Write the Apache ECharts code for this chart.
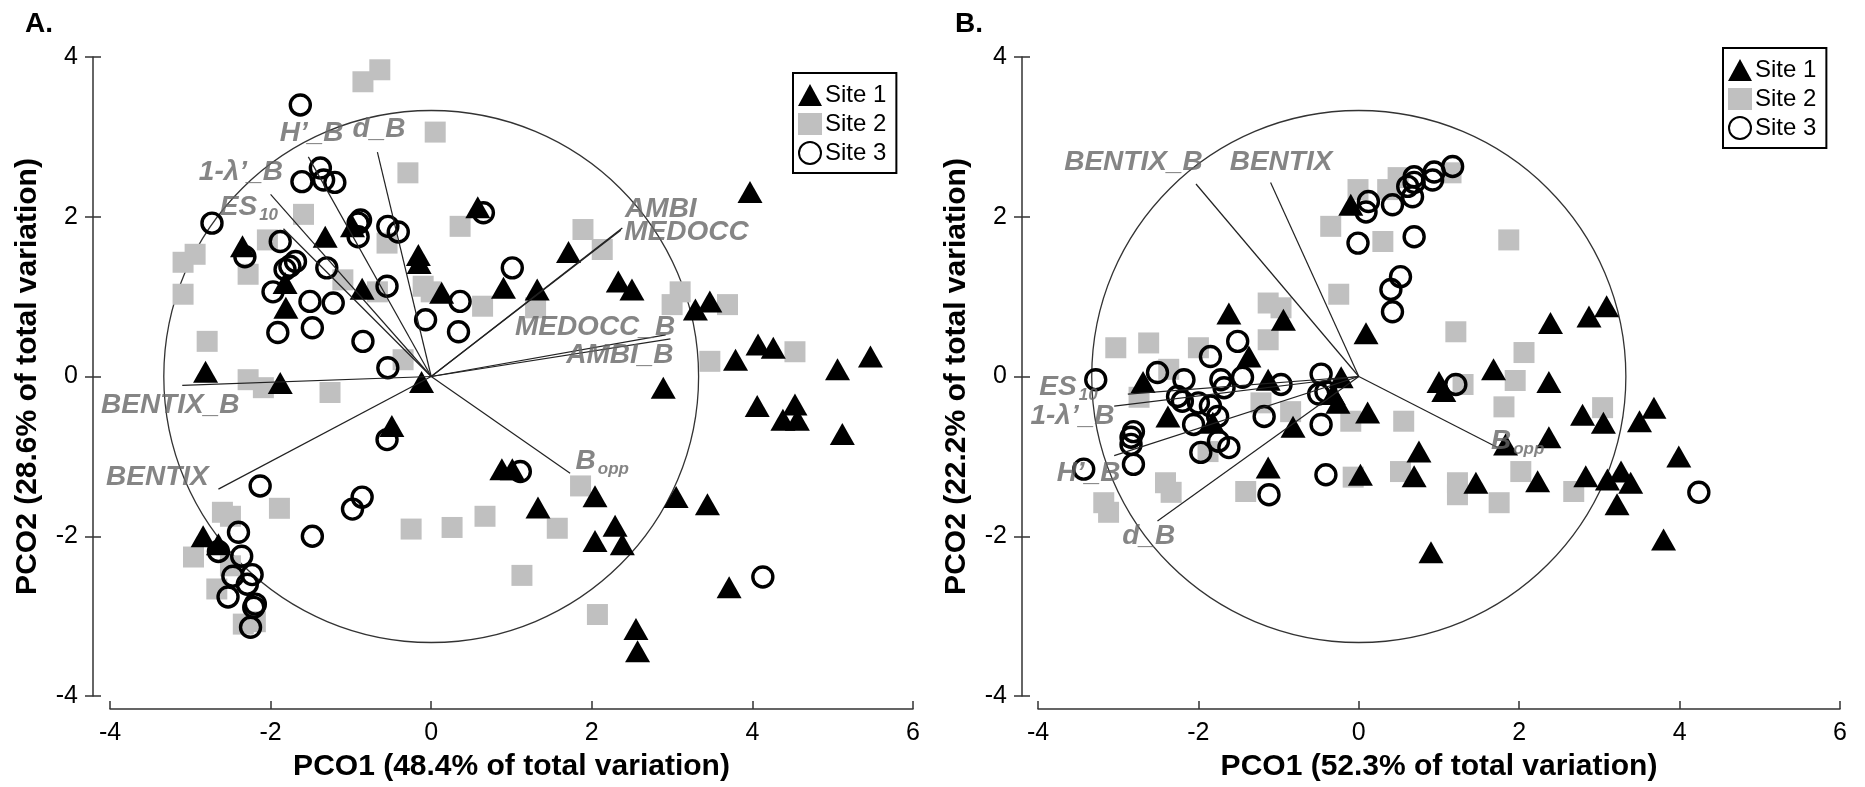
<!DOCTYPE html>
<html>
<head>
<meta charset="utf-8">
<script src="https://cdn.jsdelivr.net/npm/echarts@6/dist/echarts.min.js"></script>
<style>
  html, body { margin: 0; padding: 0; background: #fff; }
  #chart { width: 1865px; height: 787px; }
</style>
</head>
<body>
<div id="chart"></div>
<script>
// axis ranges (both panels)
var xRange = [-4, 6];
var yRange = [-4, 4];
var tickStep = 2;
var circleRadius = 3.33;
var siteNames = ['Site 1', 'Site 2', 'Site 3'];

/* Panel A - PCO (48.4% / 28.6%) */
var siteA1 = [[-2.81,0.06],[-1.88,-0.08],[-0.12,-0.07],[-0.49,-0.62],[-2.35,1.63],[-1.82,1.17],[-1.81,0.86],[-1.32,1.75],[-0.98,1.88],[-0.86,1.10],[-0.16,1.52],[-0.15,1.42],[0.13,1.05],[0.58,2.12],[1.71,1.56],[0.90,1.11],[1.32,1.09],[2.33,1.19],[2.50,1.09],[3.29,0.84],[3.47,0.94],[3.97,2.31],[3.79,0.21],[4.07,0.40],[4.26,0.36],[5.06,0.09],[5.47,0.25],[2.89,-0.14],[4.06,-0.37],[4.53,-0.35],[4.38,-0.54],[4.56,-0.54],[5.12,-0.72],[0.88,-1.16],[1.01,-1.16],[1.33,-1.64],[2.04,-1.50],[2.29,-1.87],[2.04,-2.06],[2.38,-2.10],[3.05,-1.51],[3.44,-1.60],[3.71,-2.64],[2.55,-3.16],[2.57,-3.44],[-2.84,-2.00],[-2.65,-2.10]];
var siteA2 = [[-0.85,3.69],[-0.64,3.84],[0.05,3.06],[-0.29,2.55],[-1.59,2.03],[0.36,1.88],[-2.94,1.53],[-3.09,1.43],[-3.09,1.03],[-2.04,1.71],[-2.28,1.28],[-2.79,0.44],[-1.10,1.21],[-0.55,1.67],[-0.67,1.06],[-0.10,1.13],[0.00,1.06],[-0.35,0.21],[-2.28,-0.04],[-2.09,-0.14],[-1.26,-0.20],[0.64,0.88],[1.89,1.84],[2.13,1.59],[1.30,0.86],[3.10,1.06],[3.00,0.90],[3.69,0.90],[3.47,0.19],[4.53,0.31],[1.86,-1.37],[0.67,-1.75],[0.26,-1.89],[1.57,-1.90],[1.13,-2.49],[2.07,-2.98],[-0.25,-1.91],[-1.89,-1.65],[-2.60,-1.70],[-2.50,-1.75],[-2.96,-2.26],[-2.67,-2.66],[-2.50,-2.37],[-2.34,-3.10],[-2.19,-3.07]];
var siteA3 = [[-1.63,3.40],[-1.38,2.61],[-1.61,2.44],[-1.34,2.46],[-1.20,2.43],[-2.73,1.92],[-0.88,1.96],[-0.91,1.75],[-0.54,1.88],[-0.41,1.81],[-1.88,1.69],[-2.32,1.50],[-1.69,1.44],[-1.76,1.38],[-1.82,1.34],[-1.30,1.36],[-1.97,1.06],[-1.51,0.94],[-1.22,0.92],[-1.91,0.55],[-1.48,0.61],[-0.85,0.44],[-0.54,0.11],[-0.55,1.13],[-0.07,0.71],[0.36,0.94],[0.34,0.56],[1.01,1.36],[0.65,2.05],[-0.55,-0.79],[-2.13,-1.37],[-0.86,-1.51],[-0.98,-1.66],[-1.48,-2.00],[-2.40,-1.95],[-2.65,-2.19],[-2.36,-2.25],[-2.23,-2.48],[-2.47,-2.50],[-2.29,-2.60],[-2.53,-2.76],[-2.19,-2.85],[-2.21,-2.89],[-2.25,-3.14],[4.13,-2.51],[1.11,-1.19],[-0.91,1.92]];
var vecNamesA = ['d_B', 'H’_B', '1-λ’_B', 'ES10', 'AMBI', 'MEDOCC', 'MEDOCC_B', 'AMBI_B', 'BENTIX_B', 'BENTIX', 'Bopp'];
var vecEndA = [[-0.67,2.81],[-1.53,2.75],[-1.84,1.85],[-2.00,2.28],[2.38,1.86],[2.36,1.83],[2.92,0.52],[2.98,0.47],[-3.10,-0.11],[-2.65,-1.41],[1.73,-1.21]];
var labelAtA = [[-0.65,3.10],[-1.49,3.05],[-2.37,2.56],[-2.27,2.12],[2.86,2.09],[3.18,1.81],[2.04,0.61],[2.35,0.27],[-3.25,-0.36],[-3.41,-1.26],[2.13,-1.06]];

/* Panel B - PCO (52.3% / 22.2%) */
var siteB1 = [[-0.10,2.15],[-1.62,0.79],[-0.94,0.71],[0.09,0.54],[-1.37,0.25],[-1.13,-0.04],[-2.69,-0.07],[-0.22,-0.01],[-0.32,-0.22],[-0.26,-0.33],[-2.38,-0.50],[-1.82,-0.58],[0.11,-0.45],[-0.82,-0.63],[-1.13,-1.14],[0.02,-1.23],[0.75,-0.94],[0.69,-1.25],[1.00,-0.07],[1.06,-0.18],[2.37,-0.07],[2.79,-0.48],[3.05,-0.58],[3.68,-0.39],[3.50,-0.56],[2.37,-0.76],[1.83,-0.85],[1.46,-1.33],[2.23,-1.31],[2.83,-1.25],[3.10,-1.29],[3.27,-1.19],[3.39,-1.33],[3.22,-1.60],[3.99,-1.00],[3.80,-2.04],[0.90,-2.20],[2.39,0.67],[2.87,0.75],[3.09,0.88],[1.68,0.09]];
var siteB2 = [[-0.01,2.34],[0.49,2.49],[1.15,2.55],[0.36,2.34],[-0.35,1.88],[0.30,1.69],[1.87,1.71],[-0.25,1.03],[-1.13,0.92],[-0.97,0.86],[-1.13,0.46],[-3.03,0.36],[-2.62,0.42],[-2.00,0.36],[-2.37,0.09],[-2.74,-0.26],[-1.22,-0.33],[-0.85,-0.44],[-0.10,-0.56],[0.56,-0.56],[-1.88,-0.94],[-2.41,-1.33],[-2.34,-1.45],[-1.41,-1.44],[-0.07,-1.26],[0.52,-1.19],[-3.18,-1.58],[-3.12,-1.70],[1.21,0.56],[2.06,0.30],[1.95,-0.05],[1.30,-0.10],[3.04,-0.39],[1.81,-0.38],[2.02,-1.19],[1.23,-1.33],[1.23,-1.48],[1.75,-1.58],[2.68,-1.44]];
var siteB3 = [[1.17,2.63],[0.94,2.56],[0.92,2.46],[0.69,2.50],[0.61,2.38],[0.67,2.25],[0.69,2.43],[0.42,2.15],[0.12,2.19],[0.09,2.06],[-0.01,1.67],[0.69,1.75],[0.52,1.25],[0.40,1.09],[0.42,0.81],[1.21,-0.10],[-3.28,-0.04],[-2.51,0.05],[-1.85,0.25],[-1.51,0.44],[-2.18,-0.04],[-1.72,-0.04],[-1.68,-0.14],[-1.45,-0.01],[-2.26,-0.25],[-2.20,-0.31],[-2.00,-0.33],[-1.85,-0.37],[-2.06,-0.60],[-1.76,-0.50],[-1.75,-0.81],[-1.62,-0.89],[-1.97,-0.95],[-2.81,-0.69],[-2.84,-0.76],[-2.84,-0.85],[-2.81,-1.10],[-3.43,-1.16],[-0.97,-0.10],[-0.47,0.03],[-0.50,-0.22],[-0.41,-0.19],[-0.47,-0.60],[-1.18,-0.50],[-0.41,-1.23],[-1.12,-1.48],[4.24,-1.45]];
var vecNamesB = ['BENTIX_B', 'BENTIX', 'ES10', '1-λ’_B', 'H’_B', 'd_B', 'Bopp'];
var vecEndB = [[-2.03,2.41],[-1.10,2.43],[-2.88,-0.22],[-3.05,-0.37],[-3.05,-0.99],[-2.51,-1.81],[1.73,-0.89]];
var labelAtB = [[-2.81,2.68],[-0.97,2.68],[-3.62,-0.14],[-3.57,-0.50],[-3.37,-1.21],[-2.62,-2.00],[1.98,-0.81]];

var chart = echarts.init(document.getElementById('chart'));
var FONT = '"Liberation Sans", Arial, sans-serif';
var GRAY_TXT = '#666';

function richName(n) {
	if (n === 'ES10') return '{b|ES}{s|10}';
	if (n === 'Bopp') return '{b|B}{s|opp}';
	return '{b|' + n + '}';
}

function makeAxes(gi, pct1, pct2, off) {
	var xa = {
		gridIndex: gi, type: 'value', min: xRange[0], max: xRange[1], interval: tickStep,
		offset: 13,
		name: 'PCO1 (' + pct1 + '% of total variation)', nameLocation: 'middle', nameGap: 43,
		nameTextStyle: { fontFamily: FONT, fontSize: 30, fontWeight: 'bold', color: '#000' },
		axisLine: { show: true, onZero: false, lineStyle: { color: '#333', width: 1.5 } },
		axisTick: { show: true, inside: true, length: 8, lineStyle: { color: '#333', width: 1.5 } },
		axisLabel: { fontFamily: FONT, fontSize: 25, color: '#000', margin: 12 },
		splitLine: { show: false }
	};
	var ya = {
		gridIndex: gi, type: 'value', min: yRange[0], max: yRange[1], interval: tickStep,
		position: 'left', offset: off,
		name: 'PCO2 (' + pct2 + '% of total variation)', nameLocation: 'middle', nameGap: 50,
		nameTextStyle: { fontFamily: FONT, fontSize: 30, fontWeight: 'bold', color: '#000' },
		axisLine: { show: true, onZero: false, lineStyle: { color: '#333', width: 1.5 } },
		axisTick: { show: true, length: 8, lineStyle: { color: '#333', width: 1.5 } },
		axisLabel: { fontFamily: FONT, fontSize: 25, color: '#000', margin: 15 },
		splitLine: { show: false }
	};
	// second copy just for the ticks that cross to the inside
	var ya2 = {
		gridIndex: gi, type: 'value', min: yRange[0], max: yRange[1], interval: tickStep,
		position: 'left', offset: off,
		axisLine: { show: false, onZero: false },
		axisTick: { show: true, inside: true, length: 8, lineStyle: { color: '#333', width: 1.5 } },
		axisLabel: { show: false },
		splitLine: { show: false }
	};
	return { x: xa, y: [ya, ya2] };
}

function makeSeries(gi, s1, s2, s3, vecNames, vecEnd, labelAt) {
	var xi = gi, yi = gi * 2;
	var vecData = vecEnd.map(function (p, i) { return [p[0], p[1], vecNames[i]]; });
	var lblData = labelAt.map(function (p, i) { return [p[0], p[1], vecNames[i]]; });
	return [
		{
			type: 'custom', xAxisIndex: xi, yAxisIndex: yi, silent: true, z: 1,
			data: [[0, 0]],
			renderItem: function (params, api) {
				var c = api.coord([0, 0]);
				var sz = api.size([circleRadius, circleRadius]);
				return { type: 'ellipse', shape: { cx: c[0], cy: c[1], rx: sz[0], ry: sz[1] },
					style: { fill: 'none', stroke: '#333', lineWidth: 1.3 } };
			}
		},
		{
			name: siteNames[1], type: 'scatter', xAxisIndex: xi, yAxisIndex: yi, z: 2,
			symbol: 'rect', symbolSize: 21,
			itemStyle: { color: '#c0c0c0', opacity: 1 },
			data: s2
		},
		{
			name: siteNames[0], type: 'scatter', xAxisIndex: xi, yAxisIndex: yi, z: 3,
			symbol: 'triangle', symbolSize: [25, 22],
			itemStyle: { color: '#000', opacity: 1 },
			data: s1
		},
		{
			name: siteNames[2], type: 'scatter', xAxisIndex: xi, yAxisIndex: yi, z: 4,
			symbol: 'circle', symbolSize: 20,
			itemStyle: { color: 'rgba(255,255,255,0)', borderColor: '#000', borderWidth: 3.4, opacity: 1 },
			data: s3
		},
		{
			type: 'custom', xAxisIndex: xi, yAxisIndex: yi, silent: true, z: 5,
			data: vecData,
			renderItem: function (params, api) {
				var a = api.coord([0, 0]);
				var b = api.coord([api.value(0), api.value(1)]);
				return { type: 'line', shape: { x1: a[0], y1: a[1], x2: b[0], y2: b[1] },
					style: { stroke: '#222', lineWidth: 1.2 } };
			}
		},
		{
			type: 'scatter', xAxisIndex: xi, yAxisIndex: yi, silent: true, z: 6,
			symbolSize: 1, itemStyle: { color: 'rgba(0,0,0,0)' },
			data: lblData,
			label: {
				show: true, position: 'inside',
				formatter: function (p) { return richName(p.value[2]); },
				rich: {
					b: { fontFamily: FONT, fontSize: 28, fontWeight: 'bold', fontStyle: 'italic', color: GRAY_TXT },
					s: { fontFamily: FONT, fontSize: 17, fontWeight: 'bold', fontStyle: 'italic', color: GRAY_TXT, padding: [16, 0, 0, 2] }
				}
			}
		}
	];
}

var axA = makeAxes(0, '48.4', '28.6', 17);
var axB = makeAxes(1, '52.3', '22.2', 16);

function legendAt(left, top) {
	return {
		left: left, top: top, orient: 'vertical',
		data: siteNames,
		itemWidth: 24, itemHeight: 22, itemGap: 5,
		padding: [10, 10, 8, 5],
		borderColor: '#000', borderWidth: 2,
		textStyle: { fontFamily: FONT, fontSize: 24, color: '#000', padding: [0, 0, 0, -2] }
	};
}

var option = {
	animation: false,
	backgroundColor: '#fff',
	title: [
		{ text: 'A.', left: 20, top: 5, textStyle: { fontFamily: FONT, fontSize: 28, fontWeight: 'bold', color: '#000' } },
		{ text: 'B.', left: 950, top: 5, textStyle: { fontFamily: FONT, fontSize: 28, fontWeight: 'bold', color: '#000' } }
	],
	legend: [legendAt(793, 73), legendAt(1723, 48)],
	grid: [
		{ left: 110, top: 57, width: 803, height: 640 },
		{ left: 1038, top: 57, width: 802, height: 640 }
	],
	xAxis: [axA.x, axB.x],
	yAxis: axA.y.concat(axB.y),
	series: makeSeries(0, siteA1, siteA2, siteA3, vecNamesA, vecEndA, labelAtA)
		.concat(makeSeries(1, siteB1, siteB2, siteB3, vecNamesB, vecEndB, labelAtB))
};

chart.setOption(option);
</script>
</body>
</html>
